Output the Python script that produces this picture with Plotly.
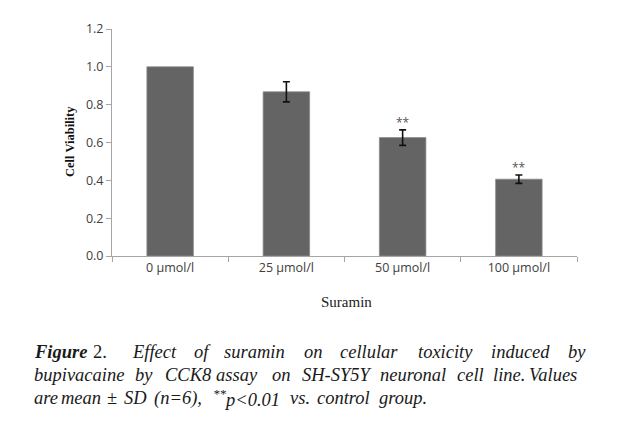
import plotly.graph_objects as go

categories = ["0 \u00b5mol/l", "25 \u00b5mol/l", "50 \u00b5mol/l", "100 \u00b5mol/l"]
viability = [1.0, 0.868, 0.626, 0.406]
sd = [0.0, 0.053, 0.041, 0.022]
significance = ["", "", "**", "**"]
y_ticks = [0.0, 0.2, 0.4, 0.6, 0.8, 1.0, 1.2]
y_tick_labels = ["0.0", "0.2", "0.4", "0.6", "0.8", "1.0", "1.2"]

W, H = 634, 428
L, R, T, B = 112, 577, 29, 256  # plot area in pixels


def px(x):
    return (x - L) / (R - L)


def py(y):
    return (B - y) / (B - T)


bar_marker = dict(color="#646464", line=dict(color="#8c8c8c", width=0.8))
fig = go.Figure()
# control bar (SD not drawn)
fig.add_trace(go.Bar(
    x=categories[:1], y=viability[:1], width=0.4,
    marker=bar_marker, hoverinfo="skip",
))
# treated bars with SD error bars
fig.add_trace(go.Bar(
    x=categories[1:], y=viability[1:], width=0.4,
    marker=bar_marker,
    error_y=dict(type="data", array=sd[1:], visible=True, color="#111111",
                 thickness=1.6, width=3.5),
    hoverinfo="skip",
))

annotations = []
for c, v, e, s in zip(categories, viability, sd, significance):
    if s:
        annotations.append(dict(x=c, y=v + e, xref="x", yref="y", text=s,
                                showarrow=False, yanchor="bottom", yshift=-3,
                                font=dict(family="Open Sans", size=12, color="#555555")))

# axis titles
annotations.append(dict(x=px(70), y=py(142), xref="paper", yref="paper",
                        text="<b>Cell Viability</b>", textangle=-90, showarrow=False,
                        font=dict(family="Liberation Serif", size=12.5, color="#111111"),
                        xanchor="center", yanchor="middle"))
annotations.append(dict(x=px(346), y=py(302), xref="paper", yref="paper",
                        text="Suramin", showarrow=False,
                        font=dict(family="Liberation Serif", size=15, color="#222222"),
                        xanchor="center", yanchor="middle"))

cap_font = dict(family="Liberation Serif", size=18.5, color="#1a1a1a")
line1 = [("<b><i>Figure</i></b>", 32), ("2.", 91), ("<i>Effect</i>", 130), ("<i>of</i>", 192),
         ("<i>suramin</i>", 222), ("<i>on</i>", 302), ("<i>cellular</i>", 338),
         ("<i>toxicity</i>", 416), ("<i>induced</i>", 489), ("<i>by</i>", 566)]
line2 = [("<i>bupivacaine</i>", 32), ("<i>by</i>", 133), ("<i>CCK8</i>", 163), ("<i>assay</i>", 214),
         ("<i>on</i>", 270), ("<i>SH-SY5Y</i>", 300), ("<i>neuronal</i>", 378), ("<i>cell</i>", 455),
         ("<i>line.</i>", 491), ("<i>Values</i>", 527)]
line3 = [("<i>are</i>", 32), ("<i>mean</i>", 59), ("\u00b1", 105), ("<i>SD</i>", 122),
         ("<i>(n=6),</i>", 152), ("<i><sup>**</sup>p&lt;0.01</i>", 211), ("<i>vs.</i>", 288),
         ("<i>control</i>", 315), ("<i>group.</i>", 377)]
for words, ymid in ((line1, 352), (line2, 375), (line3, 398)):
    for txt, x0 in words:
        annotations.append(dict(x=px(x0), y=py(ymid), xref="paper", yref="paper",
                                text=txt, showarrow=False, xanchor="left", yanchor="middle",
                                font=cap_font))

fig.update_layout(
    width=W, height=H,
    margin=dict(l=L, r=W - R, t=T, b=H - B, pad=0),
    paper_bgcolor="white", plot_bgcolor="white",
    showlegend=False,
    barmode="overlay",
    annotations=annotations,
    xaxis=dict(
        type="category", categoryorder="array", categoryarray=categories,
        showline=True, linecolor="#a6a6a6", linewidth=1,
        ticks="outside", tickson="boundaries", ticklen=5, tickcolor="#a6a6a6",
        showgrid=False, zeroline=False,
        tickfont=dict(family="Open Sans", size=12.5, color="#404040"),
        range=[-0.5, 3.5],
    ),
    yaxis=dict(
        range=[0, 1.2], tickvals=y_ticks, ticktext=y_tick_labels,
        showline=True, linecolor="#a6a6a6", linewidth=1,
        ticks="outside", ticklen=5, tickcolor="#a6a6a6",
        showgrid=False, zeroline=False,
        tickfont=dict(family="Open Sans", size=12.5, color="#404040"),
    ),
)

fig.write_html("out.html", config={"displayModeBar": False},
               post_script="document.body.style.margin='0';")
